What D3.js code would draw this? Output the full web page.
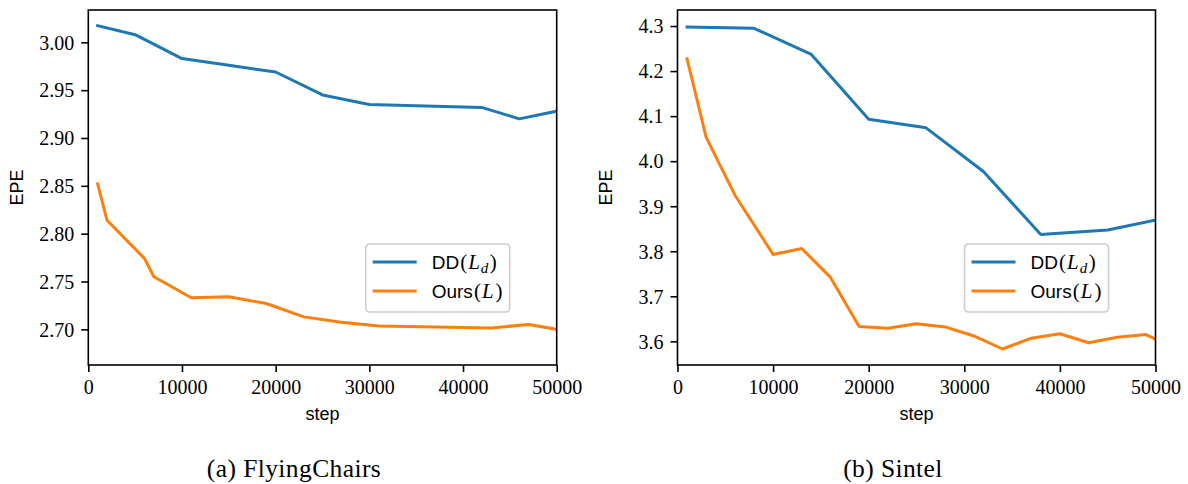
<!DOCTYPE html>
<html>
<head>
<meta charset="utf-8">
<script src="https://cdn.jsdelivr.net/npm/d3@7"></script>
<style>
  html, body { margin: 0; padding: 0; background: #ffffff; }
  svg { display: block; }
</style>
</head>
<body>
<svg id="fig" width="1188" height="484"></svg>
<script>
// ---- data: EPE vs. training step ----
const xTicks = [0, 10000, 20000, 30000, 40000, 50000];

// (a) FlyingChairs
const chairsDDSteps   = [1000, 5000, 10000, 15000, 20000, 25000, 30000, 42000, 46000, 50000];
const chairsDDEPE     = [3.0175, 3.008, 2.983, 2.976, 2.969, 2.945, 2.935, 2.932, 2.920, 2.928];
const chairsOursSteps = [1000, 2000, 6000, 7000, 11000, 15000, 19000, 23000, 27000, 31000, 43000, 47000, 50000];
const chairsOursEPE   = [2.852, 2.814, 2.774, 2.755, 2.733, 2.734, 2.727, 2.713, 2.7075, 2.7035, 2.7015, 2.705, 2.700];
const chairsYTicks    = [2.70, 2.75, 2.80, 2.85, 2.90, 2.95, 3.00];
const chairsYDomain   = [2.6627, 3.0338];

// (b) Sintel
const sintelDDSteps   = [1000, 8000, 14000, 20000, 26000, 32000, 38000, 45000, 50000];
const sintelDDEPE     = [4.298, 4.295, 4.237, 4.093, 4.074, 3.977, 3.837, 3.847, 3.869];
const sintelOursSteps = [1000, 3000, 6000, 10000, 13000, 16000, 19000, 22000, 25000, 28000, 31000, 34000, 37000, 40000, 43000, 46000, 49000, 50000];
const sintelOursEPE   = [4.227, 4.053, 3.925, 3.793, 3.806, 3.742, 3.633, 3.629, 3.639, 3.632, 3.612, 3.583, 3.607, 3.617, 3.597, 3.609, 3.615, 3.605];
const sintelYTicks    = [3.6, 3.7, 3.8, 3.9, 4.0, 4.1, 4.2, 4.3];
const sintelYDomain   = [3.5475, 4.3356];

const xDomain = [0, 50000];
const captions = ["(a) FlyingChairs", "(b) Sintel"];
const seriesColors = ["#1f77b4", "#ff7f0e"];

// ---- drawing ----
const svg = d3.select("#fig");
svg.append("rect").attr("width", 1188).attr("height", 484).attr("fill", "#ffffff");

const SERIF = "'Liberation Serif', 'Times New Roman', serif";
const SANS = "'Liberation Sans', Arial, sans-serif";

function panel(opts) {
  const { left, right, top, bottom, yDomain, yTicks, yFmt, series, caption, captionX, id } = opts;
  const x = d3.scaleLinear().domain(xDomain).range([left, right]);
  const y = d3.scaleLinear().domain(yDomain).range([bottom, top]);

  const g = svg.append("g");

  g.append("clipPath").attr("id", id)
    .append("rect").attr("x", left).attr("y", top)
    .attr("width", right - left).attr("height", bottom - top);

  const line = d3.line().x(d => x(d[0])).y(d => y(d[1]));
  series.forEach((s, i) => {
    g.append("path")
      .datum(d3.zip(s.steps, s.values))
      .attr("d", line)
      .attr("fill", "none")
      .attr("stroke", seriesColors[i])
      .attr("stroke-width", 3)
      .attr("stroke-linejoin", "round")
      .attr("stroke-linecap", "square")
      .attr("clip-path", `url(#${id})`);
  });

  // axes
  const xAxis = g.append("g").attr("transform", `translate(0,${bottom})`)
    .call(d3.axisBottom(x).tickValues(xTicks).tickFormat(d3.format("d")).tickSize(7).tickSizeOuter(0));
  xAxis.selectAll("text").attr("y", 29).attr("dy", null);

  const yAxis = g.append("g").attr("transform", `translate(${left},0)`)
    .call(d3.axisLeft(y).tickValues(yTicks).tickFormat(d3.format(yFmt)).tickSize(7).tickSizeOuter(0));
  yAxis.selectAll("text").attr("x", -14).attr("dy", "0.34em");

  [xAxis, yAxis].forEach(a => {
    a.select(".domain").remove();
    a.selectAll("line").attr("stroke", "#000").attr("stroke-width", 1.6);
    a.selectAll("text").attr("fill", "#000")
      .style("font-family", SERIF).style("font-size", "20px");
  });

  // frame
  g.append("rect")
    .attr("x", left).attr("y", top)
    .attr("width", right - left).attr("height", bottom - top)
    .attr("fill", "none").attr("stroke", "#000").attr("stroke-width", 1.6);

  // axis titles
  g.append("text")
    .attr("x", (left + right) / 2).attr("y", 420)
    .attr("text-anchor", "middle")
    .style("font-family", SANS).style("font-size", "18px")
    .text("step");
  g.append("text")
    .attr("transform", `translate(${left - 65.6},${(top + bottom) / 2}) rotate(-90)`)
    .attr("text-anchor", "middle")
    .style("font-family", SANS).style("font-size", "18px")
    .text("EPE");

  // legend
  const lgRight = right - 47, lgTop = 244, lgW = 144, lgH = 68;
  const lg = g.append("g").attr("transform", `translate(${lgRight - lgW},${lgTop})`);
  lg.append("rect")
    .attr("width", lgW).attr("height", lgH).attr("rx", 4).attr("ry", 4)
    .attr("fill", "#ffffff").attr("fill-opacity", 0.8)
    .attr("stroke", "#cccccc").attr("stroke-width", 1.6);

  const rows = [
    { name: "DD", sym: "L", sub: "d" },
    { name: "Ours", sym: "L", sub: null }
  ];
  rows.forEach((r, i) => {
    const cy = 18 + i * 29;
    lg.append("line")
      .attr("x1", 7).attr("x2", 51).attr("y1", cy).attr("y2", cy)
      .attr("stroke", seriesColors[i]).attr("stroke-width", 3);
    const t = lg.append("text")
      .attr("x", 66).attr("y", cy + 7)
      .attr("fill", "#000");
    t.append("tspan").style("font-family", SANS).style("font-size", "19px").text(r.name);
    const math = { family: SERIF, size: "21px" };
    t.append("tspan").style("font-family", math.family).style("font-size", math.size)
      .attr("dx", 1).text("(");
    t.append("tspan").style("font-family", math.family).style("font-style", "italic")
      .style("font-size", math.size).attr("dx", 1).text(r.sym);
    if (r.sub) {
      t.append("tspan").attr("dy", 4).attr("dx", 1).style("font-family", math.family)
        .style("font-style", "italic").style("font-size", "15px").text(r.sub);
      t.append("tspan").attr("dy", -4).attr("dx", 1.5).style("font-family", math.family)
        .style("font-size", math.size).text(")");
    } else {
      t.append("tspan").attr("dx", 2).style("font-family", math.family)
        .style("font-size", math.size).text(")");
    }
  });

  // sub-figure caption
  svg.append("text")
    .attr("x", captionX).attr("y", 477)
    .attr("text-anchor", "middle")
    .style("font-family", SERIF).style("font-size", "25.5px")
    .style("letter-spacing", "0.4px")
    .attr("fill", "#000")
    .text(caption);
}

panel({
  id: "clipA",
  left: 88.3, right: 556.7, top: 10, bottom: 365,
  yDomain: chairsYDomain, yTicks: chairsYTicks, yFmt: ".2f",
  series: [
    { steps: chairsDDSteps, values: chairsDDEPE },
    { steps: chairsOursSteps, values: chairsOursEPE }
  ],
  caption: captions[0], captionX: 294
});

panel({
  id: "clipB",
  left: 677.5, right: 1155.5, top: 10, bottom: 365,
  yDomain: sintelYDomain, yTicks: sintelYTicks, yFmt: ".1f",
  series: [
    { steps: sintelDDSteps, values: sintelDDEPE },
    { steps: sintelOursSteps, values: sintelOursEPE }
  ],
  caption: captions[1], captionX: 893
});
</script>
</body>
</html>
